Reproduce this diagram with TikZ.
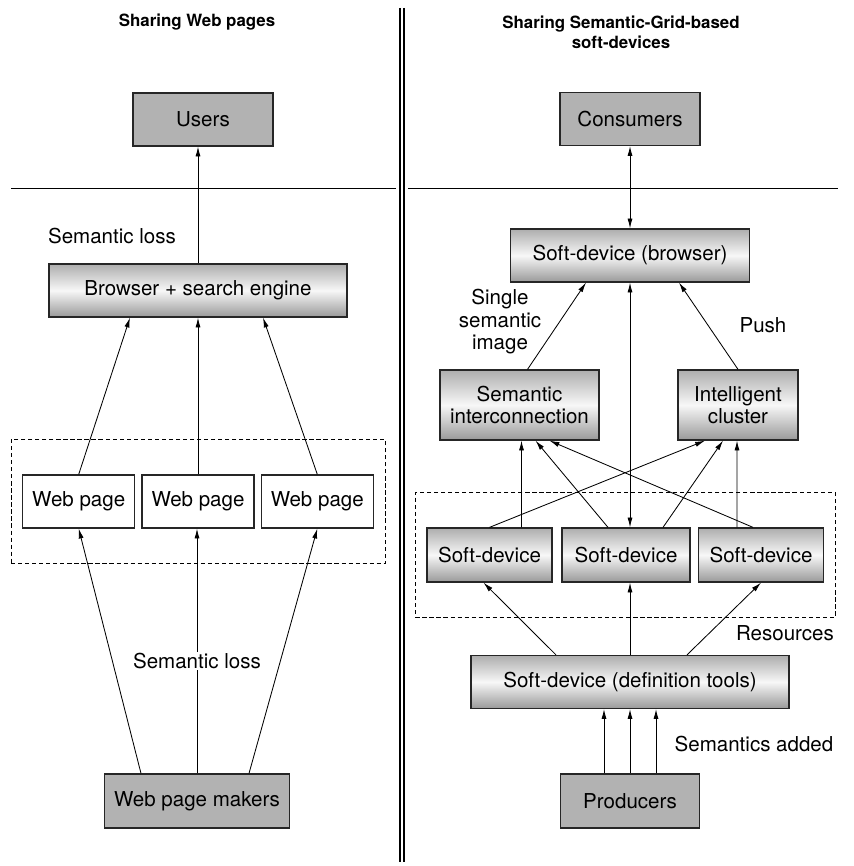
\documentclass[tikz,border=0pt]{standalone}
\usepackage{fontspec}
\setmainfont{TeX Gyre Heros}
\usetikzlibrary{arrows.meta,positioning,fit,calc}

\begin{document}
\begin{tikzpicture}
[x=0.025cm,y=-0.025cm,
    every node/.style={font=\fontsize{14.6}{16}\selectfont},
    box/.style={draw=black!85,line width=0.9pt,inner sep=0pt,minimum height=1.325cm,align=center},
    actor/.style={box,fill=black!30},
    metal/.style={box,top color=black!32,bottom color=black!40,middle color=black!3},
    page/.style={box,fill=white,minimum width=2.8cm},
    group/.style={draw,dash pattern=on 3pt off 2pt,line width=0.6pt,inner xsep=0.275cm,inner ysep=0.875cm},
    edge/.style={line width=0.6pt},
    edgearr/.style={edge,-{Latex[length=7pt,width=3.6pt]}},
    edgeboth/.style={edge,{Latex[length=7pt,width=3.6pt]}-{Latex[length=7pt,width=3.6pt]}},
    lbl/.style={align=center,inner sep=1pt},
    heading/.style={font=\fontsize{12}{14}\selectfont\bfseries,align=center}]
\useasboundingbox (0,0) rectangle (853,866);
%%%%%%%%%%
%% separators
\draw[line width=0.8pt] (400,8) -- (400,862);
\draw[line width=0.8pt] (404,8) -- (404,862);
\draw[edge] (11,188) -- (396,188);
\draw[edge] (408,188) -- (838,188);
\node[heading] (hleft) at (197,22) {Sharing Web pages};
\node[heading] (hright) at (621,32) {Sharing Semantic-Grid-based\\soft-devices};
%%%%%%%%%%
%% web pages
\node[actor,minimum width=3.5cm] (users) at (203,119.5) {Users};
\node[metal,minimum width=7.45cm] (browser) at (198,290.5) {Browser + search engine};
\node[page] (wp2) at (198,501.5) {Web page};
\node[page,left=0.15cm of wp2] (wp1) {Web page};
\node[page,right=0.15cm of wp2] (wp3) {Web page};
\node[group,fit=(wp1)(wp3)] (pages) {};
\node[actor,minimum width=4.625cm,minimum height=1.35cm] (makers) at (197,801) {Web page makers};
%%
\draw[edgearr] (browser.north) -- (browser.north |- users.south);
\draw[edgearr] (wp1.north) -- ([xshift=-1.7cm]browser.south);
\draw[edgearr] (wp2.north) -- (browser.south);
\draw[edgearr] (wp3.north) -- ([xshift=1.625cm]browser.south);
\draw[edgearr] ([xshift=-1.4cm]makers.north) -- (wp1.south);
\draw[edgearr] (makers.north) -- (makers.north |- wp2.south);
\draw[edgearr] ([xshift=1.3cm]makers.north) -- (wp3.south);
\node[lbl] (loss1) at (112,236) {Semantic loss};
\node[lbl,fill=white] (loss2) at (197,661) {Semantic loss};
%%%%%%%%%%
%% soft-devices
\node[actor,minimum width=3.5cm] (consumers) at (630,119) {Consumers};
\node[metal,minimum width=5.975cm] (sdbrowser) at (630,255.5) {Soft-device (browser)};
\node[metal,minimum width=3.975cm,minimum height=1.75cm] (semint) at (519.5,405) {Semantic\\interconnection};
\node[metal,minimum width=3cm,minimum height=1.75cm] (intcl) at (738,405) {Intelligent\\cluster};
\node[metal,minimum width=3.2cm,minimum height=1.35cm] (sd2) at (626,555) {Soft-device};
\node[metal,minimum width=3.125cm,minimum height=1.35cm] (sd1) at (489.5,555) {Soft-device};
\node[metal,minimum width=3.125cm,minimum height=1.35cm] (sd3) at (761,555) {Soft-device};
\node[group,fit=(sd1)(sd3)] (resources) {};
\node[metal,minimum width=7.95cm] (deftools) at (630,682) {Soft-device (definition tools)};
\node[actor,minimum width=3.475cm,minimum height=1.35cm] (producers) at (630,801) {Producers};
%%
\draw[edgeboth] (consumers.south) -- (consumers.south |- sdbrowser.north);
\draw[edgearr] ([xshift=0.2cm]semint.north) -- ([xshift=-1.1cm]sdbrowser.south);
\draw[edgearr] (intcl.north) -- ([xshift=1.225cm]sdbrowser.south);
\draw[edgeboth] (sdbrowser.south) -- (sdbrowser.south |- sd2.north);
\draw[edgearr] (sd1.north) -- ([xshift=-0.825cm]intcl.south);
\draw[edgearr] ([xshift=0.8cm]sd1.north) -- ([xshift=0.05cm]semint.south);
\draw[edgearr] ([xshift=-0.45cm]sd2.north) -- ([xshift=0.4cm]semint.south);
\draw[edgearr] ([xshift=0.925cm]sd2.north) -- ([xshift=-0.375cm]intcl.south);
\draw[edgearr] ([xshift=-0.2cm]sd3.north) -- ([xshift=0.75cm]semint.south);
\draw[edgearr] ([xshift=-0.6cm]sd3.north) -- ([xshift=-0.025cm]intcl.south);
\draw[edgearr] ([xshift=-1.85cm]deftools.north) -- ([xshift=-0.15cm]sd1.south);
\draw[edgearr] (deftools.north) -- (deftools.north |- sd2.south);
\draw[edgearr] ([xshift=1.425cm]deftools.north) -- (sd3.south);
\foreach \dx in {-0.65,0,0.65}
  \draw[edgearr] ([xshift=\dx cm]producers.north) -- ([xshift=\dx cm]deftools.south);
\node[lbl] (single) at (500,322) {Single\\semantic\\image};
\node[lbl] (push) at (763,325) {Push};
\node[lbl] (reslbl) at (785,633) {Resources};
\node[lbl] (added) at (754,744) {Semantics added};
\end{tikzpicture}
\end{document}
